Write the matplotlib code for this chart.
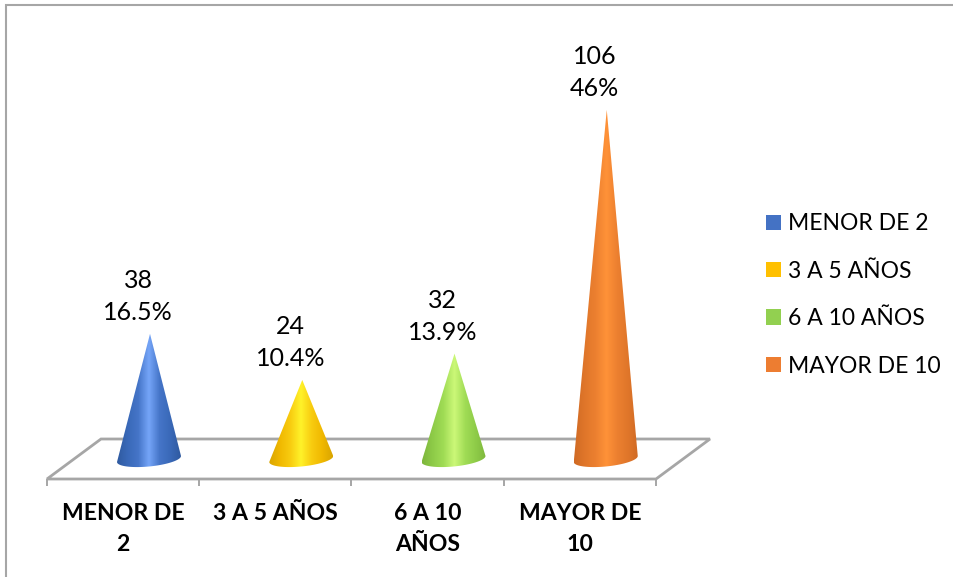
import numpy as np
import matplotlib
matplotlib.use("Agg")
import matplotlib.pyplot as plt
from matplotlib.colors import LinearSegmentedColormap
from matplotlib.patches import Patch, PathPatch, Polygon
from matplotlib.path import Path

categories = ["MENOR DE 2", "3 A 5 AÑOS", "6 A 10 AÑOS", "MAYOR DE 10"]
axis_labels = ["MENOR DE\n2", "3 A 5 AÑOS", "6 A 10\nAÑOS", "MAYOR DE\n10"]
counts = [38, 24, 32, 106]
percents = ["16.5%", "10.4%", "13.9%", "46%"]
legend_colors = ["#4472C4", "#FFC000", "#92D050", "#ED7D31"]
gradients = [
    ["#2F5AA0", "#3A69B8", "#4575C8", "#75A5F8", "#4575C8", "#3A69B8", "#2F5AA0"],
    ["#D9A500", "#F0B800", "#F8CC10", "#FFF22A", "#F8CC10", "#F0B800", "#D9A500"],
    ["#7DB63C", "#8ECB48", "#A0DC55", "#CCF878", "#A0DC55", "#8ECB48", "#7DB63C"],
    ["#CF6A24", "#E0762A", "#EC8030", "#FF9238", "#EC8030", "#E0762A", "#CF6A24"],
]

W, H = 954, 577
plt.rcParams["font.family"] = ["Lato", "DejaVu Sans"]
fig = plt.figure(figsize=(W / 100, H / 100), dpi=100, facecolor="white")
ax = fig.add_axes([0, 0, 1, 1])

PX_X = 152.25          # pixels per category
PX_Y = 3.294           # pixels per count
X0, Y0 = 47, 459       # pixel of the axis origin
ax.set_xlim(-X0 / PX_X, (W - X0) / PX_X)
ax.set_ylim(-(H - Y0) / PX_Y, Y0 / PX_Y)
ax.axis("off")


def fx(px):
    return (px - X0) / PX_X


def fy(py):
    return (Y0 - py) / PX_Y


grey = "#A6A6A6"
# chart frame: only its top and left edges are in the picture
ax.plot([fx(W), fx(5.5), fx(5.5)], [fy(5), fy(5), fy(H)], color=grey, lw=1.5, zorder=0,
        solid_joinstyle="miter", solid_capstyle="butt")

# floor
floor = [(fx(47), fy(479)), (fx(656), fy(479)), (fx(710), fy(439)), (fx(101), fy(439))]
ax.add_patch(Polygon(floor, closed=True, fc="white", ec=grey, lw=2, zorder=1))
for i in range(len(categories) + 1):
    ax.plot([i, i], [fy(479), fy(486)], color=grey, lw=1.4, zorder=1,
            solid_capstyle="butt")

# cones
half_w = 32 / PX_X
half_h = 7.5 / PX_Y
tilt = 3 / PX_Y
offset = 0.67
for i, (n, stops) in enumerate(zip(counts, gradients)):
    cx = i + offset
    t = np.linspace(np.pi, 2 * np.pi, 40)
    ex = cx + half_w * np.cos(t)
    ey = half_h * np.sin(t) + tilt * np.cos(t)
    verts = [(cx + 1 / PX_X, n)] + list(zip(ex, ey)) + [(cx + 1 / PX_X, n)]
    codes = [Path.MOVETO] + [Path.LINETO] * (len(verts) - 2) + [Path.CLOSEPOLY]
    cone = Path(verts, codes)
    cmap = LinearSegmentedColormap.from_list(f"cone{i}", stops)
    im = ax.imshow(np.linspace(0, 1, 256)[None, :], cmap=cmap, aspect="auto",
                   extent=(cx - half_w, cx + half_w, -half_h - tilt, n),
                   zorder=2, interpolation="bilinear")
    im.set_clip_path(PathPatch(cone, transform=ax.transData))
    ax.text(cx - 11 / PX_X, n + 10 / PX_Y, f"{n}\n{percents[i]}", ha="center", va="bottom",
            fontsize=18, color="black", linespacing=1.45, zorder=3)
    ax.text(i + 0.5, fy(503), axis_labels[i], ha="center", va="top", fontsize=16.6,
            fontweight="bold", color="black", linespacing=1.56, zorder=3)

ax.set_xlim(-X0 / PX_X, (W - X0) / PX_X)
ax.set_ylim(-(H - Y0) / PX_Y, Y0 / PX_Y)

handles = [Patch(fc=c, ec="none", label=l) for c, l in zip(legend_colors, categories)]
ax.legend(handles=handles, loc="center left",
          bbox_to_anchor=(766 / W, 1 - 295 / H), bbox_transform=fig.transFigure,
          frameon=False, fontsize=16.5, handlelength=0.65, handleheight=0.65,
          handletextpad=0.3, labelspacing=1.15, borderpad=0, borderaxespad=0)

fig.savefig("out.png", dpi=100, facecolor="white")
